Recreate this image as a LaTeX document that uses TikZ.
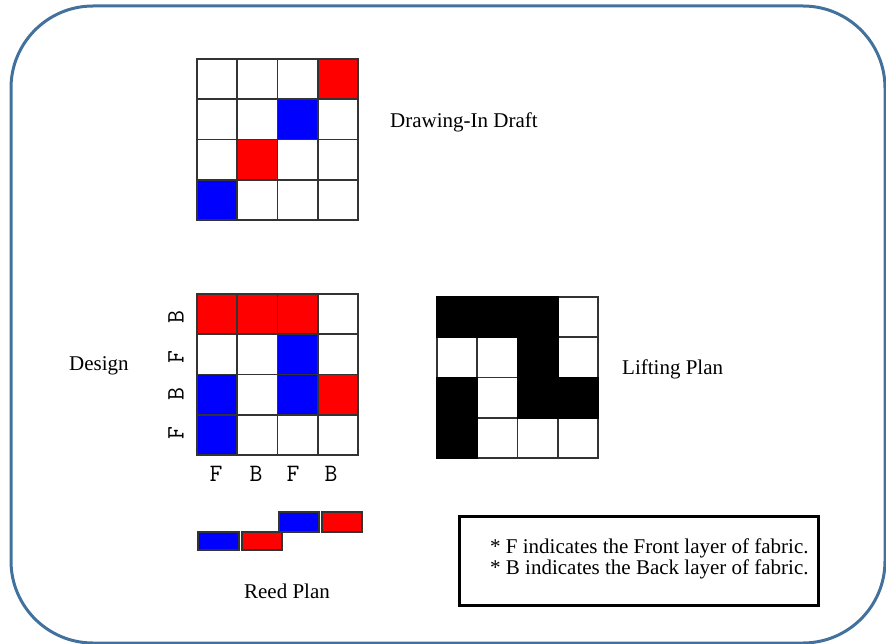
\documentclass[tikz,border=0pt]{standalone}
\usepackage{fontspec}
\setmainfont{Liberation Serif}
\definecolor{framecol}{HTML}{41719C}
\definecolor{gridline}{HTML}{333333}
\definecolor{cred}{HTML}{FF0000}
\definecolor{cblue}{HTML}{0000FF}
\tikzset{
  frame/.style={draw=framecol, line width=3pt},
  cell/.style={draw=gridline, line width=1.6pt},
  blackcell/.style={draw=black, fill=black, line width=1.6pt},
  reedbox/.style={draw=gridline, line width=1.5pt},
  lab/.style={font=\fontsize{21}{25}\selectfont, inner sep=0pt},
  fb/.style={font=\ttfamily\fontsize{25}{28}\selectfont, inner sep=0pt},
  legendbox/.style={draw=black, line width=3pt, minimum width=359pt, minimum height=89pt, anchor=north west, inner sep=0pt},
  legendtext/.style={font=\fontsize{21}{18.5}\selectfont, align=left, inner sep=0pt, anchor=north west}
}
\newcommand{\cellgrid}[3]{%
  \foreach \col [count=\k from 0] in {#3} {
    \pgfmathtruncatemacro\cx{mod(\k,4)}
    \pgfmathtruncatemacro\ry{\k/4}
    \draw[cell, fill=\col] ({#1+40.25*\cx},{#2+40.25*\ry}) rectangle +(40.25,40.25);
  }%
}
\newcommand{\blackcells}[3]{%
  \foreach \cx/\ry in {#3} {
    \draw[blackcell] ({#1+40.25*\cx},{#2+40.25*\ry}) rectangle +(40.25,40.25);
  }%
}
\begin{document}
\begin{tikzpicture}[x=1pt,y=-1pt]
\useasboundingbox (0,0) rectangle (886,644);
\clip (0,0) rectangle (886,644);
\draw[frame, rounded corners=82pt] (11,6) rectangle (885,643);

% Drawing-In Draft
\cellgrid{197}{59}{white,white,white,cred, white,white,cblue,white, white,cred,white,white, cblue,white,white,white}
\node[lab, anchor=base west] (draftlab) at (390,128) {Drawing-In Draft};

% Design
\cellgrid{197}{294}{cred,cred,cred,white, white,white,cblue,white, cblue,white,cblue,cred, cblue,white,white,white}
\node[lab, anchor=base west] (designlab) at (69,370) {Design};
\node[fb, anchor=base] (c1) at (216,481) {F};
\node[fb, anchor=base] (c2) at (256,481) {B};
\node[fb, anchor=base] (c3) at (293,481) {F};
\node[fb, anchor=base] (c4) at (331,481) {B};
\node[fb, rotate=90] (r1) at (176,317) {B};
\node[fb, rotate=90] (r2) at (176,357) {F};
\node[fb, rotate=90] (r3) at (176,394) {B};
\node[fb, rotate=90] (r4) at (176,433) {F};

% Lifting Plan
\cellgrid{437}{297}{white,white,white,white, white,white,white,white, white,white,white,white, white,white,white,white}
\blackcells{437}{297}{0/0,1/0,2/0,2/1,0/2,2/2,3/2,0/3}
\node[lab, anchor=base west] (liftlab) at (622,374) {Lifting Plan};

% Reed Plan
\draw[reedbox, fill=cblue] (198,532) rectangle (239,550);
\draw[reedbox, fill=cred] (242,532) rectangle (282,550);
\draw[reedbox, fill=cblue] (279,512) rectangle (319,532);
\draw[reedbox, fill=cred] (322,512) rectangle (362,532);
\node[lab, anchor=base] (reedlab) at (287,598) {Reed Plan};

% Legend
\node[legendbox] (legend) at (458,515) {};
\node[legendtext] (legendtxt) at (490,539) {* F indicates the Front layer of fabric.\\* B indicates the Back layer of fabric.};
\end{tikzpicture}
\end{document}
